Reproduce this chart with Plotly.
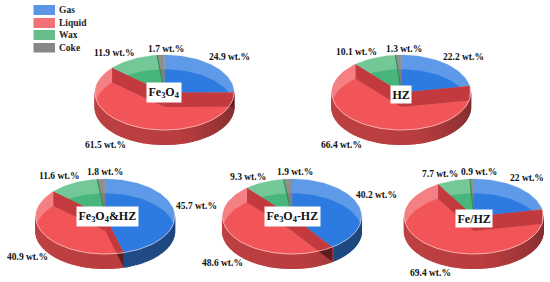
import math
import plotly.graph_objects as go

catalysts = ["Fe<sub>3</sub>O<sub>4</sub>", "HZ", "Fe<sub>3</sub>O<sub>4</sub>&HZ", "Fe<sub>3</sub>O<sub>4</sub>-HZ", "Fe/HZ"]
components = ["Gas", "Liquid", "Wax", "Coke"]
gas = [24.9, 22.2, 45.7, 40.2, 22]
liquid = [61.5, 66.4, 40.9, 48.6, 69.4]
wax = [11.9, 10.1, 11.6, 9.3, 7.7]
coke = [1.7, 1.3, 1.8, 1.9, 0.9]

# layout only
centers = [(164.5, 92.5), (401.2, 92.5), (105.2, 216.5), (292, 216.5), (473.8, 216.5)]
RX, RY, D = 69.5, 37.5, 14.5
label_pos = [
    [(229, 57), (105, 144.5), (114, 53), (166, 49)],
    [(463, 57), (341, 144.5), (356, 52), (403.7, 49)],
    [(196, 206), (27, 257), (59, 176), (105, 172)],
    [(376, 195), (222, 263), (248, 177), (295, 172)],
    [(526.7, 178), (430, 273), (440, 174), (479, 172)],
]
box_pos = [(164, 92), (400.5, 94), (107, 216), (292, 216), (474, 218)]
light = ["#5e9ae8", "#f58083", "#74c898", "#8f8f8f"]
floor = ["#2d7be0", "#f25558", "#48b57c", "#808080"]
WALL, WALL_DARK = "#c23a3e", "#5c1e20"
SERIF = "Liberation Serif"

fig = go.Figure()


def add(pts, color, line=0.0):
    if len(pts) < 3:
        return
    xs = [p[0] for p in pts] + [pts[0][0]]
    ys = [p[1] for p in pts] + [pts[0][1]]
    fig.add_trace(go.Scatter(x=xs, y=ys, mode="lines", fill="toself", fillcolor=color,
                             line=dict(color=color, width=line), hoverinfo="skip", showlegend=False))


def pt(cx, cy, deg):
    t = math.radians(deg)
    return (cx + RX * math.sin(t), cy - RY * math.cos(t))


def ellipse(cx, cy):
    return [pt(cx, cy, a * 3) for a in range(120)]


def sector(cx, cy, a0, a1):
    n = max(2, int((a1 - a0) / 2) + 2)
    return [(cx, cy)] + [pt(cx, cy, a0 + (a1 - a0) * i / (n - 1)) for i in range(n)]


def clip(subject, window):
    # Sutherland-Hodgman against a convex clockwise-on-screen window
    out = subject
    for i in range(len(window)):
        a, b = window[i], window[(i + 1) % len(window)]
        inside = lambda p: (b[0] - a[0]) * (p[1] - a[1]) - (b[1] - a[1]) * (p[0] - a[0]) >= 0
        src, out = out, []
        for j in range(len(src)):
            p, q = src[j], src[(j + 1) % len(src)]
            if inside(p) != inside(q):
                dx1, dy1 = q[0] - p[0], q[1] - p[1]
                dx2, dy2 = b[0] - a[0], b[1] - a[1]
                s = (dx2 * (p[1] - a[1]) - dy2 * (p[0] - a[0])) / (dy2 * dx1 - dx2 * dy1)
                if inside(p):
                    out.append(p)
                out.append((p[0] + s * dx1, p[1] + s * dy1))
            elif inside(p):
                out.append(p)
        if not out:
            return []
    return out


def mix(c0, c1, t):
    return "rgb(%d,%d,%d)" % tuple(c0[i] + (c1[i] - c0[i]) * t for i in range(3))


def side_color(sector_index, deg):
    # deg 90 = right edge, 270 = left edge of the visible rim
    t = (270 - deg) / 180
    if sector_index == 0:
        return mix((38, 86, 150), (30, 70, 125), t)
    if sector_index == 1:
        if t < 0.55:
            return mix((190, 66, 68), (186, 62, 64), t / 0.55)
        return mix((186, 62, 64), (122, 44, 46), (t - 0.55) / 0.45)
    return "#444444"


for k, (cx, cy) in enumerate(centers):
    vals = [gas[k], liquid[k], wax[k], coke[k]]
    total = sum(vals)
    edges = [0.0]
    for v in vals:
        edges.append(edges[-1] + v / total * 360)
    ly = cy + D
    U, L = ellipse(cx, cy), ellipse(cx, ly)

    # outer rim, in thin vertical strips for the shading
    a = 90.0
    while a < 270:
        b = min(a + 3, 270)
        m = (a + b) / 2
        idx = next((i for i in range(4) if edges[i] <= m < edges[i + 1]), 1)
        add([pt(cx, cy, a), pt(cx, cy, b), pt(cx, ly, b), pt(cx, ly, a)], side_color(idx, m), 1.2)
        a = b

    # liquid cut faces, the dark part beyond the top rim
    cuts = [edges[1], edges[2]]
    for e in cuts:
        add([(cx, cy), pt(cx, cy, e), pt(cx, ly, e), (cx, ly)], WALL_DARK)

    # back band
    for i in range(4):
        add(sector(cx, cy, edges[i], edges[i + 1]), light[i], 0.3)

    # floors
    for i in (0, 2, 3):
        add(clip(sector(cx, cy, edges[i], edges[i + 1]), L), floor[i], 0.3)
    add(clip(sector(cx, ly, edges[1], edges[2]), U), floor[1], 0.3)

    # liquid cut faces inside the top rim
    for e in cuts:
        add(clip([(cx, cy), pt(cx, cy, e), pt(cx, ly, e), (cx, ly)], U), WALL)

    # wax/coke seam
    e = pt(cx, cy, edges[3])
    fig.add_trace(go.Scatter(x=[cx, e[0]], y=[cy, e[1]], mode="lines", line=dict(color="#2f8f5c", width=1.2),
                             hoverinfo="skip", showlegend=False))

    # pale highlight along the front of the top rim
    arc = [pt(cx, cy, 90 + i * 3) for i in range(61)]
    fig.add_trace(go.Scatter(x=[p[0] for p in arc], y=[p[1] for p in arc], mode="lines",
                             line=dict(color="rgba(255,225,225,0.75)", width=0.8),
                             hoverinfo="skip", showlegend=False))

    for v, (x, y) in zip(vals, label_pos[k]):
        fig.add_annotation(x=x, y=y, text=f"<b>{v:g} wt.%</b>", showarrow=False,
                           font=dict(family=SERIF, size=9.5, color="#111"))
    bx, by = box_pos[k]
    fig.add_annotation(x=bx, y=by, text=f"<b>{catalysts[k]}</b>", showarrow=False, bgcolor="white",
                       borderpad=1.5, font=dict(family=SERIF, size=12, color="#111"))

# legend
legend_y = [(5, 15), (18, 28), (30, 40), (43, 52.5)]
legend_color = ["#5b96e8", "#f47277", "#64bd8b", "#888888"]
for name, (y0, y1), c in zip(components, legend_y, legend_color):
    fig.add_shape(type="rect", x0=33.5, x1=55, y0=y0, y1=y1, fillcolor=c, line_width=0, layer="above")
    fig.add_annotation(x=57, y=(y0 + y1) / 2, xanchor="left", text=f"<b>{name}</b>", showarrow=False,
                       font=dict(family=SERIF, size=9.5, color="#222"))

fig.update_layout(
    width=550, height=282, margin=dict(l=0, r=0, t=0, b=0), paper_bgcolor="white", plot_bgcolor="white",
    showlegend=False,
    xaxis=dict(range=[0, 550], visible=False, fixedrange=True),
    yaxis=dict(range=[282, 0], visible=False, fixedrange=True),
)
fig.write_html("out.html", config={"displayModeBar": False},
               post_script="document.body.style.margin='0';document.documentElement.style.overflow='hidden';")
